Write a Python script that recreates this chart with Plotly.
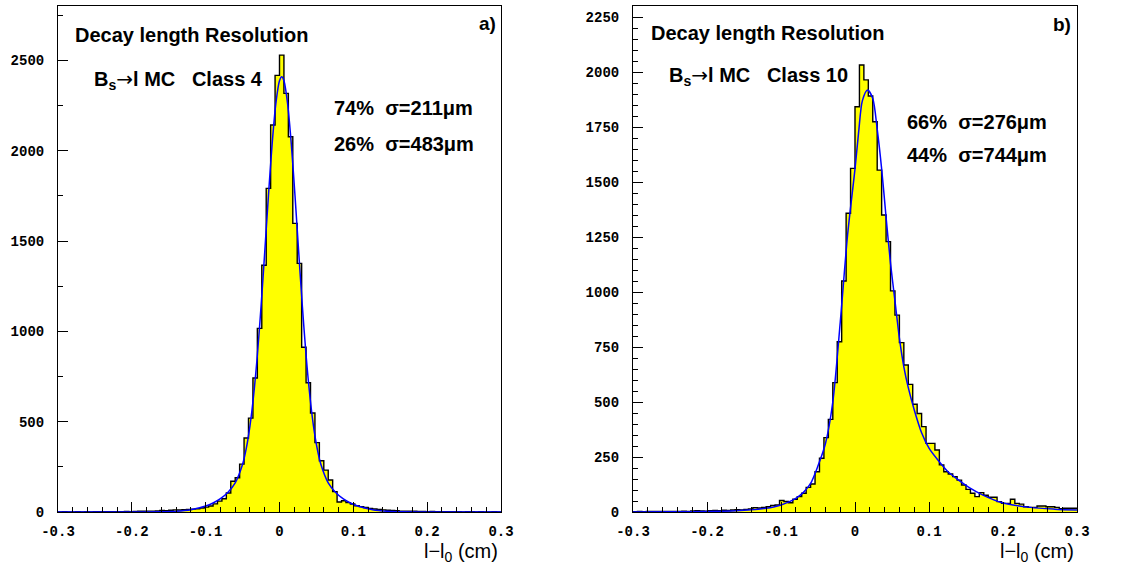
import numpy as np
import plotly.graph_objects as go

# ---------------- data ----------------
bin_lo = -0.3
bin_width = 0.006          # 100 bins over [-0.3, 0.3]

# panel a) Class 4 : counts per bin (left to right)
counts_a = [
    0, 1, 0, 0, 1, 0, 1, 0, 1, 1,
    1, 2, 1, 2, 2, 3, 2, 3, 4, 4,
    5, 5, 6, 8, 7, 10, 12, 11, 13, 14,
    16, 18, 22, 27, 33, 45, 60, 73, 105, 170,
    190, 265, 410, 520, 742, 1017, 1366, 1792, 2143, 2418,
    2530, 2318, 2078, 1598, 1377, 912, 716, 548, 384, 284,
    232, 177, 113, 55, 62, 52, 44, 35, 30, 25,
    20, 17, 14, 12, 10, 8, 7, 5, 5, 4,
    4, 3, 3, 2, 3, 2, 1, 2, 1, 1,
    1, 0, 1, 1, 0, 1, 0, 0, 1, 0,
]

# panel b) Class 10 : counts per bin
counts_b = [
    1, 2, 1, 2, 3, 2, 2, 3, 2, 3,
    3, 4, 3, 5, 6, 5, 4, 6, 7, 6,
    8, 7, 9, 10, 9, 12, 14, 20, 18, 21,
    24, 30, 32, 52, 48, 42, 58, 70, 85, 112,
    127, 183, 244, 338, 421, 588, 774, 1050, 1358, 1562,
    1842, 2032, 1964, 1891, 1774, 1554, 1350, 1229, 1005, 895,
    770, 668, 580, 490, 448, 388, 312, 312, 282, 214,
    183, 173, 161, 145, 123, 103, 85, 70, 88, 76,
    67, 67, 47, 39, 39, 58, 39, 36, 24, 21,
    21, 27, 27, 24, 24, 21, 15, 17, 17, 17,
]

# fitted curves
fit_x_a = [-0.30, -0.20, -0.16, -0.14, -0.12, -0.10, -0.09, -0.08, -0.07, -0.06,
           -0.05, -0.045, -0.04, -0.035, -0.03, -0.025, -0.02, -0.015, -0.01, -0.005,
           0.0, 0.003, 0.006, 0.011, 0.016, 0.021, 0.026, 0.031, 0.036, 0.041,
           0.046, 0.051, 0.056, 0.066, 0.076, 0.086, 0.096, 0.106, 0.126, 0.146,
           0.166, 0.20, 0.30]
fit_y_a = [0, 0.1, 1.1, 4, 12.5, 33, 50, 74, 108, 161,
           264, 352, 477, 648, 868, 1137, 1439, 1751, 2037, 2260,
           2388, 2410, 2388, 2260, 2037, 1751, 1439, 1137, 868, 648,
           477, 352, 264, 161, 108, 74, 50, 33, 12.5, 4,
           1.1, 0.1, 0]

fit_x_b = [-0.30, -0.25, -0.20, -0.16, -0.14, -0.12, -0.11, -0.10, -0.09, -0.08,
           -0.07, -0.06, -0.05, -0.04, -0.03, -0.02, -0.01, 0.0, 0.005, 0.01,
           0.017, 0.024, 0.03, 0.036, 0.042, 0.048, 0.054, 0.06, 0.066, 0.072,
           0.08, 0.09, 0.10, 0.112, 0.125, 0.14, 0.155, 0.173, 0.199, 0.237,
           0.27, 0.30]
fit_y_b = [0.5, 1, 2.5, 6, 10, 17, 23, 32, 45, 62,
           88, 130, 210, 310, 500, 860, 1260, 1560, 1730, 1870,
           1918, 1880, 1740, 1560, 1340, 1130, 960, 790, 660, 565,
           465, 360, 290, 236, 185, 145, 110, 77, 42, 21,
           13, 9]

x_tickvals = [-0.3, -0.2, -0.1, 0, 0.1, 0.2, 0.3]
x_ticktext = ["-0.3", "-0.2", "-0.1", "0", "0.1", "0.2", "0.3"]
y_tickvals_a = [0, 500, 1000, 1500, 2000, 2500]
y_tickvals_b = [0, 250, 500, 750, 1000, 1250, 1500, 1750, 2000, 2250]

# ---------------- figure ----------------
W, H = 1131, 567
edges = bin_lo + bin_width * np.arange(len(counts_a) + 1)

fig = go.Figure()
for cnts, fx, fy, xa, ya in [(counts_a, fit_x_a, fit_y_a, "x", "y"),
                             (counts_b, fit_x_b, fit_y_b, "x2", "y2")]:
    fig.add_trace(go.Scatter(
        x=edges, y=list(cnts) + [cnts[-1]], mode="lines",
        line=dict(shape="hv", color="black", width=1.4),
        fill="tozeroy", fillcolor="#ffff00",
        xaxis=xa, yaxis=ya, showlegend=False, hoverinfo="skip"))
    fig.add_trace(go.Scatter(
        x=fx, y=fy, mode="lines",
        line=dict(shape="spline", smoothing=0.8, color="#0000ff", width=1.5),
        xaxis=xa, yaxis=ya, showlegend=False, hoverinfo="skip"))

tickfont = dict(family="Liberation Mono, Courier New, monospace", size=14,
                color="black", weight="bold")
common_x = dict(range=[-0.3, 0.3], showline=True, mirror=True, linecolor="black",
                linewidth=1, ticks="inside", ticklen=10, tickwidth=1, tickcolor="black",
                tickmode="array", tickvals=x_tickvals, ticktext=x_ticktext,
                tickfont=tickfont, showgrid=False, zeroline=False,
                ticklabelstandoff=6, automargin=False,
                minor=dict(ticks="inside", ticklen=5, tickwidth=1, tickcolor="black",
                           dtick=0.02, tick0=0, showgrid=False))
common_y = dict(showline=True, mirror=True, linecolor="black", linewidth=1,
                ticks="inside", ticklen=10, tickwidth=1, tickcolor="black",
                tickmode="array", tickfont=tickfont, showgrid=False, zeroline=False,
                ticklabelstandoff=10, automargin=False)

y0, y1 = 1 - 512 / H, 1 - 6 / H
fig.update_layout(
    width=W, height=H, margin=dict(l=0, r=0, t=0, b=0, pad=0, autoexpand=False),
    paper_bgcolor="white", plot_bgcolor="white",
    xaxis=dict(domain=[58 / W, 501 / W], anchor="y", **common_x),
    yaxis=dict(domain=[y0, y1], anchor="x", range=[0, 2802],
               tickvals=y_tickvals_a, ticktext=[str(v) for v in y_tickvals_a],
               minor=dict(ticks="inside", ticklen=5, tickwidth=1, tickcolor="black",
                          dtick=250, tick0=0, showgrid=False),
               **common_y),
    xaxis2=dict(domain=[633 / W, 1077 / W], anchor="y2", **common_x),
    yaxis2=dict(domain=[y0, y1], anchor="x2", range=[0, 2300],
                tickvals=y_tickvals_b, ticktext=[str(v) for v in y_tickvals_b],
                minor=dict(ticks="inside", ticklen=5, tickwidth=1, tickcolor="black",
                           dtick=50, tick0=0, showgrid=False),
                **common_y),
)

def px(x):
    return x / W

def py(y):
    return 1 - y / H

sans = "Liberation Sans, Arial, sans-serif"
nb = "\u00a0"
arrow = '<span style="font-family:DejaVu Sans;font-weight:normal">→</span>'
anns = [
    (73, 35, "left", "<b>Decay length Resolution</b>", 20),
    (92, 80, "left", f"<b>B<sub>s</sub>{arrow}l MC{nb*3}Class 4</b>", 20),
    (332, 108, "left", f"<b>74%{nb*2}σ=211μm</b>", 20),
    (332, 144, "left", f"<b>26%{nb*2}σ=483μm</b>", 20),
    (498, 23, "right", "<b>a)</b>", 19),
    (500, 552, "right", "l−l<sub>0</sub> (cm)", 20),
    (649, 33, "left", "<b>Decay length Resolution</b>", 20),
    (667, 76, "left", f"<b>B<sub>s</sub>{arrow}l MC{nb*3}Class 10</b>", 20),
    (905, 122, "left", f"<b>66%{nb*2}σ=276μm</b>", 20),
    (905, 155, "left", f"<b>44%{nb*2}σ=744μm</b>", 20),
    (1073, 25, "right", "<b>b)</b>", 19),
    (1076, 552, "right", "l−l<sub>0</sub> (cm)", 20),
]
for x, y, xa, txt, size in anns:
    fig.add_annotation(x=px(x), y=py(y), xref="paper", yref="paper",
                       xanchor=xa, yanchor="middle", text=txt, showarrow=False,
                       font=dict(family=sans, size=size, color="black"))

fig.write_html("out.html")
